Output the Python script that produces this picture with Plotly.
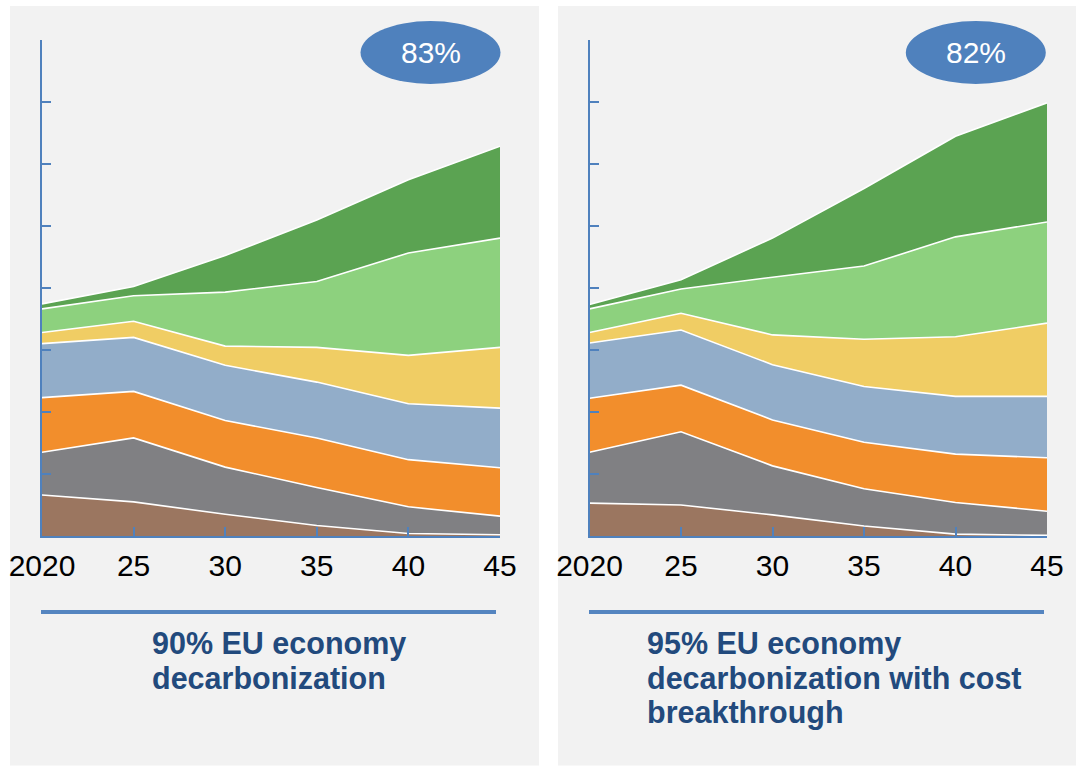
import plotly.graph_objects as go

W, H = 1076, 766

years = [2020, 2025, 2030, 2035, 2040, 2045]
tick_labels = ["2020", "25", "30", "35", "40", "45"]

layer_names = ["Layer 1", "Layer 2", "Layer 3", "Layer 4", "Layer 5", "Layer 6", "Layer 7"]
layer_colors = ["#9b7660", "#808083", "#f28e2c", "#92adc9", "#f0cd64", "#8dd17e", "#5ba352"]

# Scenario 1: 90% EU economy decarbonization
s1_layer1 = [0.66, 0.55, 0.35, 0.17, 0.04, 0.02]
s1_layer2 = [0.69, 1.03, 0.76, 0.61, 0.43, 0.30]
s1_layer3 = [0.88, 0.75, 0.75, 0.80, 0.76, 0.78]
s1_layer4 = [0.87, 0.87, 0.89, 0.90, 0.90, 0.96]
s1_layer5 = [0.18, 0.26, 0.31, 0.56, 0.78, 0.98]
s1_layer6 = [0.38, 0.41, 0.87, 1.06, 1.65, 1.76]
s1_layer7 = [0.08, 0.15, 0.59, 0.99, 1.18, 1.48]

# Scenario 2: 95% EU economy decarbonization with cost breakthrough
s2_layer1 = [0.53, 0.50, 0.34, 0.16, 0.03, 0.01]
s2_layer2 = [0.82, 1.18, 0.79, 0.60, 0.51, 0.39]
s2_layer3 = [0.87, 0.75, 0.74, 0.75, 0.78, 0.86]
s2_layer4 = [0.89, 0.89, 0.89, 0.90, 0.93, 0.99]
s2_layer5 = [0.17, 0.27, 0.48, 0.76, 0.96, 1.18]
s2_layer6 = [0.38, 0.39, 0.93, 1.18, 1.61, 1.63]
s2_layer7 = [0.07, 0.15, 0.63, 1.25, 1.62, 1.92]

badge_texts = ["83%", "82%"]
title_lines_1 = ["90% EU economy", "decarbonization"]
title_lines_2 = ["95% EU economy", "decarbonization with cost", "breakthrough"]

scenario1 = [s1_layer1, s1_layer2, s1_layer3, s1_layer4, s1_layer5, s1_layer6, s1_layer7]
scenario2 = [s2_layer1, s2_layer2, s2_layer3, s2_layer4, s2_layer5, s2_layer6, s2_layer7]

AXIS_BLUE = "#4f81bd"
TITLE_BLUE = "#224a7d"
BG = "#f2f2f2"
FONT = "Liberation Sans, Arial, sans-serif"


def px(x):
    return x / W


def py(y):
    return 1 - y / H


fig = go.Figure()

for idx, (scen, xa, ya) in enumerate([(scenario1, "x", "y"), (scenario2, "x2", "y2")]):
    for name, color, vals in zip(layer_names, layer_colors, scen):
        fig.add_trace(go.Scatter(
            x=years, y=vals, name=name, mode="lines",
            stackgroup="s%d" % idx, fillcolor=color,
            line=dict(color="white", width=1.6, shape="linear"),
            xaxis=xa, yaxis=ya, showlegend=False, hoverinfo="skip",
        ))

xaxis_common = dict(
    range=[2020, 2045], tickvals=years, ticktext=tick_labels,
    showline=True, linecolor=AXIS_BLUE, linewidth=2,
    ticks="inside", ticklen=9, tickwidth=2, tickcolor=AXIS_BLUE,
    showgrid=False, zeroline=False, fixedrange=True, automargin=False,
    tickfont=dict(family=FONT, size=30, color="black"),
    ticklabelstandoff=2,
)
yaxis_common = dict(
    range=[0, 8], dtick=1, tick0=0,
    showline=True, linecolor=AXIS_BLUE, linewidth=2,
    ticks="inside", ticklen=9, tickwidth=2, tickcolor=AXIS_BLUE,
    showticklabels=False, showgrid=False, zeroline=False, fixedrange=True,
    automargin=False,
)

ydom = [py(536), py(39.5)]

fig.update_layout(
    width=W, height=H, autosize=False,
    margin=dict(l=0, r=0, t=0, b=0, pad=0, autoexpand=False),
    paper_bgcolor="white", plot_bgcolor="rgba(0,0,0,0)",
    xaxis=dict(domain=[px(42), px(500)], anchor="y", **xaxis_common),
    yaxis=dict(domain=ydom, anchor="x", **yaxis_common),
    xaxis2=dict(domain=[px(589.5), px(1047)], anchor="y2", **xaxis_common),
    yaxis2=dict(domain=ydom, anchor="x2", **yaxis_common),
)

shapes = []
# panel backgrounds
for x0, x1 in [(10, 539), (558, 1076)]:
    shapes.append(dict(type="rect", xref="paper", yref="paper",
                       x0=px(x0), x1=px(x1), y0=py(765.5), y1=py(6),
                       fillcolor=BG, line=dict(width=0), layer="below"))
# badges
for cx in [430.5, 975.8]:
    shapes.append(dict(type="circle", xref="paper", yref="paper",
                       x0=px(cx - 70), x1=px(cx + 70), y0=py(84), y1=py(21),
                       fillcolor=AXIS_BLUE, line=dict(width=0), layer="above"))
# underline bars
for x0, x1 in [(41, 496), (589, 1044)]:
    shapes.append(dict(type="line", xref="paper", yref="paper",
                       x0=px(x0), x1=px(x1), y0=py(612), y1=py(612),
                       line=dict(color="#5585c0", width=4)))
fig.update_layout(shapes=shapes)

annotations = []
for cx, txt in zip([430.5, 975.8], badge_texts):
    annotations.append(dict(x=px(cx), y=py(53), xref="paper", yref="paper",
                            text=txt, showarrow=False, xanchor="center", yanchor="middle",
                            font=dict(family=FONT, size=30, color="white")))
line_centers = [643, 677.5, 712]
for x0, lines in [(150, title_lines_1), (645, title_lines_2)]:
    for yc, txt in zip(line_centers, lines):
        annotations.append(dict(x=px(x0), y=py(yc), xref="paper", yref="paper",
                                text="<b>%s</b>" % txt, showarrow=False,
                                xanchor="left", yanchor="middle",
                                font=dict(family=FONT, size=30.5, color=TITLE_BLUE)))
fig.update_layout(annotations=annotations)

fig.write_html("out.html", config={"displayModeBar": False},
               post_script="document.body.style.margin='0';document.body.style.overflow='hidden';")
